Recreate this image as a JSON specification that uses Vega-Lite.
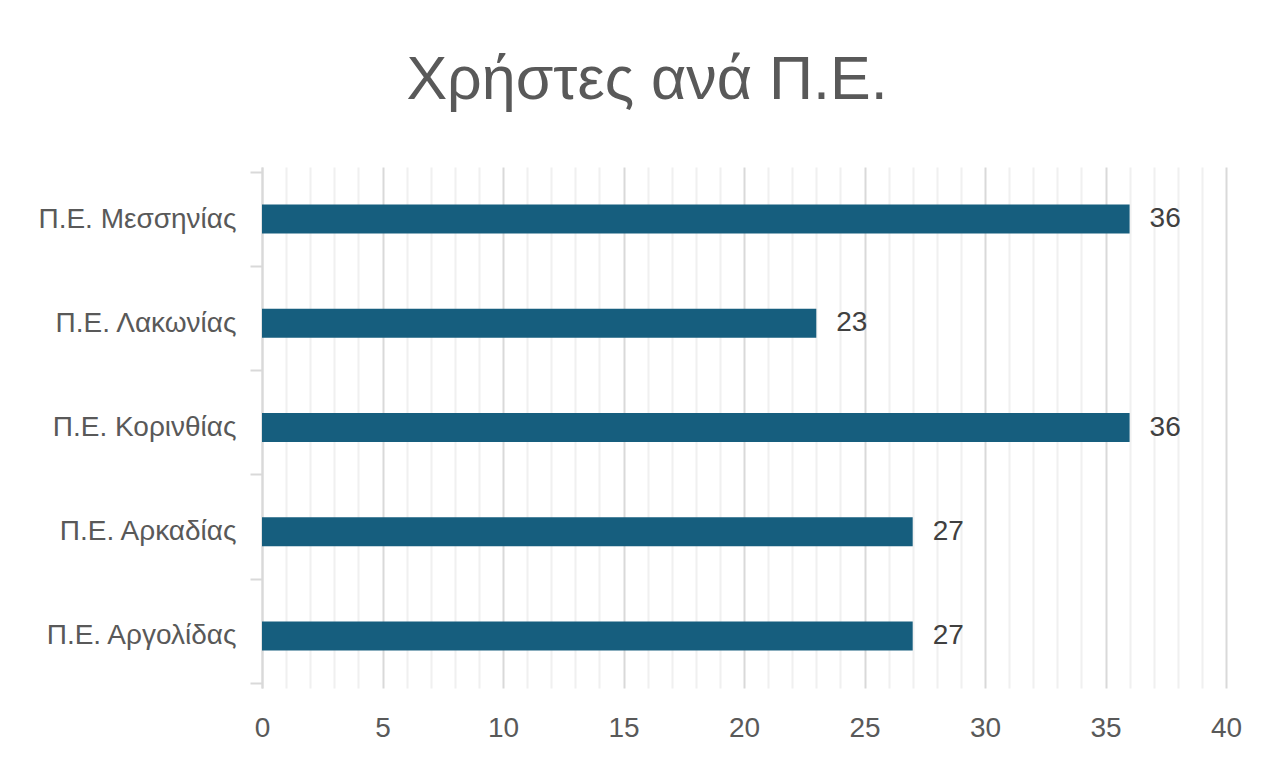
{
  "$schema": "https://vega.github.io/schema/vega-lite/v6.json",
  "autosize": {"type": "none"},
  "padding": {"left": 262, "top": 167, "right": 35, "bottom": 79},
  "width": 964,
  "height": 521,
  "background": "white",
  "title": {
    "text": "Χρήστες ανά Π.Ε.",
    "font": "Liberation Sans",
    "fontSize": 61,
    "fontWeight": "normal",
    "color": "#595959",
    "anchor": "middle",
    "baseline": "alphabetic",
    "dx": -97,
    "dy": 72,
    "offset": 65
  },
  "data": {
    "values": [
      {"pe": "Π.Ε. Μεσσηνίας", "users": 36},
      {"pe": "Π.Ε. Λακωνίας", "users": 23},
      {"pe": "Π.Ε. Κορινθίας", "users": 36},
      {"pe": "Π.Ε. Αρκαδίας", "users": 27},
      {"pe": "Π.Ε. Αργολίδας", "users": 27}
    ]
  },
  "config": {
    "view": {"stroke": null},
    "font": "Liberation Sans"
  },
  "encoding": {
    "y": {
      "field": "pe",
      "type": "nominal",
      "sort": null,
      "title": null,
      "axis": {
        "tickBand": "extent",
        "ticks": true,
        "tickSize": 12,
        "tickColor": "#d9d9d9",
        "tickWidth": 2,
        "domainColor": "#d9d9d9",
        "domainWidth": 2,
        "grid": false,
        "labelFontSize": 28,
        "labelColor": "#595959",
        "labelPadding": 14,
        "labelLimit": 0,
        "labelFont": "Liberation Sans"
      }
    },
    "x": {
      "field": "users",
      "type": "quantitative",
      "scale": {"domain": [0, 40], "nice": false},
      "title": null,
      "axis": {
        "values": [0,1,2,3,4,5,6,7,8,9,10,11,12,13,14,15,16,17,18,19,20,21,22,23,24,25,26,27,28,29,30,31,32,33,34,35,36,37,38,39,40],
        "labelExpr": "datum.value % 5 === 0 ? datum.label : ''",
        "domain": false,
        "ticks": false,
        "grid": true,
        "gridColor": {"condition": {"test": "datum.value % 5 === 0", "value": "#d9d9d9"}, "value": "#f0f0f0"},
        "gridWidth": 2,
        "labelFontSize": 28,
        "labelColor": "#595959",
        "labelPadding": 26,
        "labelFont": "Liberation Sans",
        "labelOverlap": false,
        "labelFlush": false
      }
    }
  },
  "layer": [
    {
      "mark": {"type": "bar", "color": "#165e7e", "size": 29}
    },
    {
      "mark": {"type": "text", "align": "left", "baseline": "middle", "dx": 20, "fontSize": 28, "color": "#404040", "font": "Liberation Sans"},
      "encoding": {"text": {"field": "users", "type": "quantitative"}}
    }
  ]
}
